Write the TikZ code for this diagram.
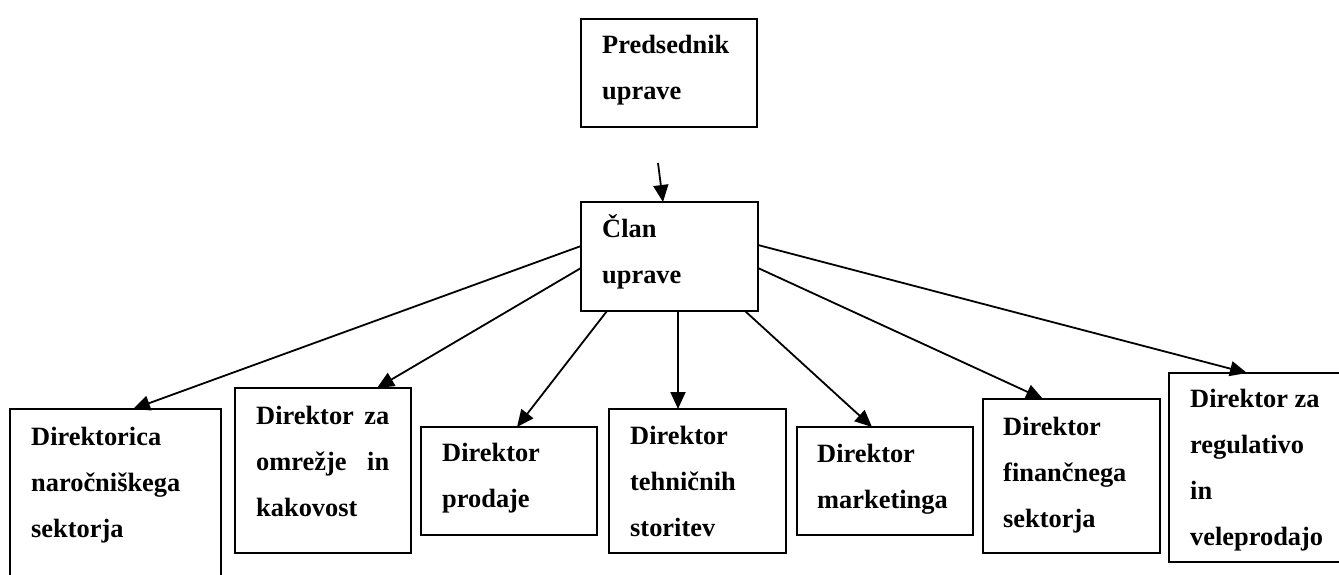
\documentclass[tikz,border=0pt]{standalone}
\usepackage{fontspec}
\setmainfont{Liberation Serif}
\usetikzlibrary{arrows.meta}
\begin{document}
\begin{tikzpicture}[x=1pt,y=-1pt,
  box/.style={draw, line width=1.8pt, inner sep=0pt, outer sep=0pt, anchor=north west},
  txt/.style={anchor=base west, align=left, inner sep=0pt, font=\fontsize{26.4pt}{46pt}\selectfont\bfseries},
  arr/.style={line width=1.8pt, -{Triangle[length=17pt,width=15pt]}}]
\useasboundingbox (0,0) rectangle (1339,574);
% boxes
\node[box, minimum width=176pt, minimum height=108pt] (top) at (581,19) {};
\node[box, minimum width=177pt, minimum height=109pt] (clan) at (581,202) {};
\node[box, minimum width=211pt, minimum height=200pt] (d1) at (10,409) {};
\node[box, minimum width=176pt, minimum height=165pt] (d2) at (235,388) {};
\node[box, minimum width=176pt, minimum height=108pt] (d3) at (421,427) {};
\node[box, minimum width=177pt, minimum height=144pt] (d4) at (609,409) {};
\node[box, minimum width=176pt, minimum height=108pt] (d5) at (797,427) {};
\node[box, minimum width=177pt, minimum height=154pt] (d6) at (983,399) {};
\node[box, minimum width=180pt, minimum height=189pt] (d7) at (1169,373) {};
% texts (anchored at the baseline of their last line)
\node[txt] (ttop) at ([shift={(21pt,-80pt)}]top.north west) {Predsednik\\uprave};
\node[txt] (tclan) at ([shift={(21pt,-81pt)}]clan.north west) {Član\\uprave};
\node[txt] (td1) at ([shift={(21pt,-128pt)}]d1.north west) {Direktorica\\naročniškega\\sektorja};
\node[txt] (td2) at ([shift={(21pt,-128pt)}]d2.north west) {\makebox[133pt][s]{Direktor za}\\\makebox[133pt][s]{omrežje in}\\kakovost};
\node[txt] (td3) at ([shift={(21pt,-80pt)}]d3.north west) {Direktor\\prodaje};
\node[txt] (td4) at ([shift={(21pt,-127pt)}]d4.north west) {Direktor\\tehničnih\\storitev};
\node[txt] (td5) at ([shift={(20pt,-81pt)}]d5.north west) {Direktor\\marketinga};
\node[txt] (td6) at ([shift={(20pt,-128pt)}]d6.north west) {Direktor\\finančnega\\sektorja};
\node[txt] (td7) at ([shift={(21pt,-172pt)}]d7.north west) {Direktor za\\regulativo\\in\\veleprodajo};
% connectors
\coordinate (t0) at (658,163);
\draw[arr] (t0) -- ([xshift=82pt]clan.north west);
\draw[arr] ([yshift=-44pt]clan.north west) -- ([xshift=123pt]d1.north west);
\draw[arr] ([yshift=-66pt]clan.north west) -- ([xshift=142pt]d2.north west);
\draw[arr] ([xshift=26pt]clan.south west) -- ([xshift=96pt]d3.north west);
\draw[arr] ([xshift=97pt]clan.south west) -- ([xshift=69pt]d4.north west);
\draw[arr] ([xshift=164pt]clan.south west) -- ([xshift=75pt]d5.north west);
\draw[arr] ([yshift=-66pt]clan.north east) -- ([xshift=60pt]d6.north west);
\draw[arr] ([yshift=-43pt]clan.north east) -- ([xshift=78pt]d7.north west);
\end{tikzpicture}
\end{document}
